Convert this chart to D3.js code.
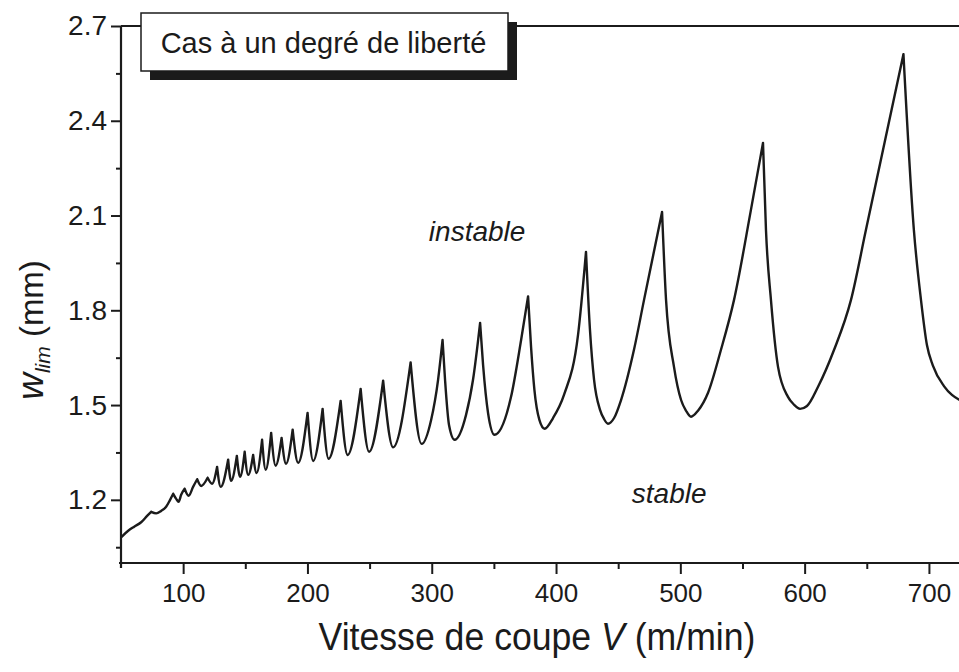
<!DOCTYPE html>
<html><head><meta charset="utf-8">
<script src="https://cdn.jsdelivr.net/npm/d3@7"></script>
<style>
html,body{margin:0;padding:0;background:#fff;}
svg{display:block;font-family:"Liberation Sans",Arial,Helvetica,sans-serif;}
</style></head><body>
<svg id="chart" width="959" height="672"></svg>
<script>
// Cutting speed V (m/min) and limit depth w_lim (mm)
const speed = [50.5,55.8,60.6,66.2,71.0,74.3,78.3,82.3,86.3,89.5,92.0,94.4,96.4,98.4,101.2,104.4,108.0,111.3,114.5,119.7,
  123.3,127.3,130.2,136.2,138.6,143.2,145.8,149.5,152.3,156.3,159.1,163.5,166.4,170.8,174.4,179.2,182.8,188.1,192.5,200.1,
  204.6,212.2,217.0,226.7,232.3,242.8,249.6,260.9,268.9,283.0,291.8,299.5,305.1,308.7,310.7,313.9,318.4,327.6,333.2,338.9,
  341.3,345.3,350.5,363.8,371.9,377.5,379.9,382.6,386.6,390.8,397.6,406.4,417.7,424.1,427.3,430.6,435.4,438.6,441.8,446.7,
  452.3,462.7,470.8,485.3,488.5,494.9,500.6,504.6,508.6,514.2,522.3,532.7,543.2,556.8,566.5,568.9,572.9,578.6,586.6,591.5,
  596.3,601.9,610.8,623.7,637.3,649.3,679.5,687.9,693.6,698.4,703.2,712.1,718.5,724.9];
const wlim = [1.083,1.102,1.115,1.129,1.149,1.162,1.157,1.165,1.178,1.200,1.219,1.203,1.194,1.216,1.235,1.213,1.241,1.265,1.244,1.270,
  1.251,1.304,1.241,1.327,1.260,1.339,1.273,1.352,1.279,1.342,1.285,1.390,1.295,1.412,1.308,1.396,1.314,1.422,1.317,1.475,
  1.323,1.488,1.330,1.513,1.342,1.551,1.352,1.577,1.366,1.635,1.377,1.453,1.580,1.706,1.580,1.437,1.390,1.469,1.580,1.760,
  1.627,1.475,1.406,1.526,1.706,1.844,1.684,1.548,1.453,1.425,1.459,1.532,1.722,1.985,1.738,1.580,1.485,1.456,1.441,1.459,
  1.516,1.675,1.833,2.111,1.833,1.621,1.516,1.482,1.463,1.482,1.539,1.675,1.833,2.118,2.330,2.054,1.833,1.621,1.526,1.501,
  1.488,1.497,1.558,1.675,1.833,2.054,2.611,2.054,1.833,1.690,1.625,1.560,1.532,1.516];

const xTicks = [100,200,300,400,500,600,700];
const xMinorTicks = [150,250,350,450,550,650];
const yTicks = [1.2,1.5,1.8,2.1,2.4,2.7];
const yMinorTicks = [1.05,1.35,1.65,1.95,2.25,2.55];
const xDomain = [50,725];
const yDomain = [1.0,2.7];
const legendLabel = "Cas à un degré de liberté";
const regionLabels = [{text:"instable", v:336.5, w:2.02}, {text:"stable", v:491, w:1.19}];

const W = 959, H = 672;
const svg = d3.select("#chart");
svg.append("rect").attr("width",W).attr("height",H).attr("fill","#fff");

const x = d3.scaleLinear().domain(xDomain).range([121,960]);
const y = d3.scaleLinear().domain(yDomain).range([563,26]);
const ink = "#1b1b1b";

svg.append("clipPath").attr("id","plot").append("rect")
  .attr("x",x(xDomain[0])).attr("y",y(yDomain[1])-4).attr("width",W-x(xDomain[0])).attr("height",y(yDomain[0])-y(yDomain[1])+4);

// curve: smooth (monotone) between successive cusps at the lobe peaks
const pts = speed.map((v,i)=>[v,wlim[i]]);
const cuts = [0];
for (let i=1;i<pts.length-1;i++) if (wlim[i]>wlim[i-1] && wlim[i]>wlim[i+1]) cuts.push(i);
cuts.push(pts.length-1);
const seg = d3.line().x(d=>x(d[0])).y(d=>y(d[1])).curve(d3.curveMonotoneX);
let dStr = "";
for (let k=0;k<cuts.length-1;k++) dStr += seg(pts.slice(cuts[k], cuts[k+1]+1));
svg.append("path")
  .attr("clip-path","url(#plot)")
  .attr("fill","none").attr("stroke",ink).attr("stroke-width",2.4)
  .attr("stroke-linejoin","round").attr("stroke-linecap","round")
  .attr("d", dStr);

// x axis
const gx = svg.append("g").attr("transform",`translate(0,${y(yDomain[0])})`);
gx.call(d3.axisBottom(x).tickValues(xTicks).tickSize(11).tickPadding(10).tickFormat(d3.format("d")));
gx.append("g").call(d3.axisBottom(x).tickValues(xMinorTicks).tickSize(6).tickFormat(""));
gx.selectAll(".domain").remove();
gx.append("line").attr("x1",x(xDomain[0])-2).attr("x2",W).attr("y1",0).attr("y2",0).attr("stroke",ink).attr("stroke-width",2.2);
gx.selectAll(".tick line").attr("stroke",ink).attr("stroke-width",2);
gx.selectAll(".tick text").attr("fill",ink).attr("font-size",26).attr("font-family","Liberation Sans, Arial, sans-serif");

// y axis
const gy = svg.append("g").attr("transform",`translate(${x(xDomain[0])},0)`);
gy.call(d3.axisLeft(y).tickValues(yTicks).tickSize(10).tickPadding(4).tickFormat(d3.format(".1f")));
gy.append("g").call(d3.axisLeft(y).tickValues(yMinorTicks).tickSize(5).tickFormat(""));
gy.selectAll(".domain").remove();
gy.append("line").attr("x1",0).attr("x2",0).attr("y1",y(yDomain[1])).attr("y2",y(yDomain[0])+5).attr("stroke",ink).attr("stroke-width",2.2);
gy.selectAll(".tick line").attr("stroke",ink).attr("stroke-width",2);
gy.selectAll(".tick text").attr("fill",ink).attr("font-size",28).attr("font-family","Liberation Sans, Arial, sans-serif");

// top frame line
svg.append("line").attr("x1",x(xDomain[0])).attr("x2",W).attr("y1",y(yDomain[1])).attr("y2",y(yDomain[1]))
  .attr("stroke",ink).attr("stroke-width",2);

// legend box with shadow
const bx=141, by=13, bw=367, bh=58, off=9;
svg.append("rect").attr("x",bx+off).attr("y",by+off).attr("width",bw).attr("height",bh).attr("fill",ink);
svg.append("rect").attr("x",bx).attr("y",by).attr("width",bw).attr("height",bh).attr("fill","#fff").attr("stroke",ink).attr("stroke-width",1.5);
svg.append("text").attr("x",bx+bw/2-1).attr("y",by+40).attr("text-anchor","middle")
  .attr("font-size",29).attr("fill",ink).text(legendLabel);

// region labels
svg.selectAll("text.region").data(regionLabels).join("text").attr("class","region")
  .attr("x",d=>x(d.v)).attr("y",d=>y(d.w)).attr("text-anchor","middle")
  .attr("font-size",28).attr("font-style","italic").attr("fill",ink).text(d=>d.text);

// x title (condensed, as in the reference)
const xt = svg.append("text").attr("x",0).attr("y",0).attr("text-anchor","middle")
  .attr("font-size",39).attr("fill",ink);
xt.append("tspan").text("Vitesse de coupe ");
xt.append("tspan").attr("font-style","italic").text("V ");
xt.append("tspan").text("(m/min)");
const xtw = xt.node().getComputedTextLength();
xt.attr("transform",`translate(537,650) scale(${437/xtw},1)`);

// y title
const yt = svg.append("text").attr("transform","translate(43,330) rotate(-90)").attr("text-anchor","middle").attr("fill",ink);
yt.append("tspan").attr("font-size",37).attr("font-style","italic").text("w");
yt.append("tspan").attr("font-size",21).attr("font-style","italic").attr("dy",7).text("lim");
yt.append("tspan").attr("font-size",33).attr("dy",-7).text(" (mm)");
</script>
</body></html>
